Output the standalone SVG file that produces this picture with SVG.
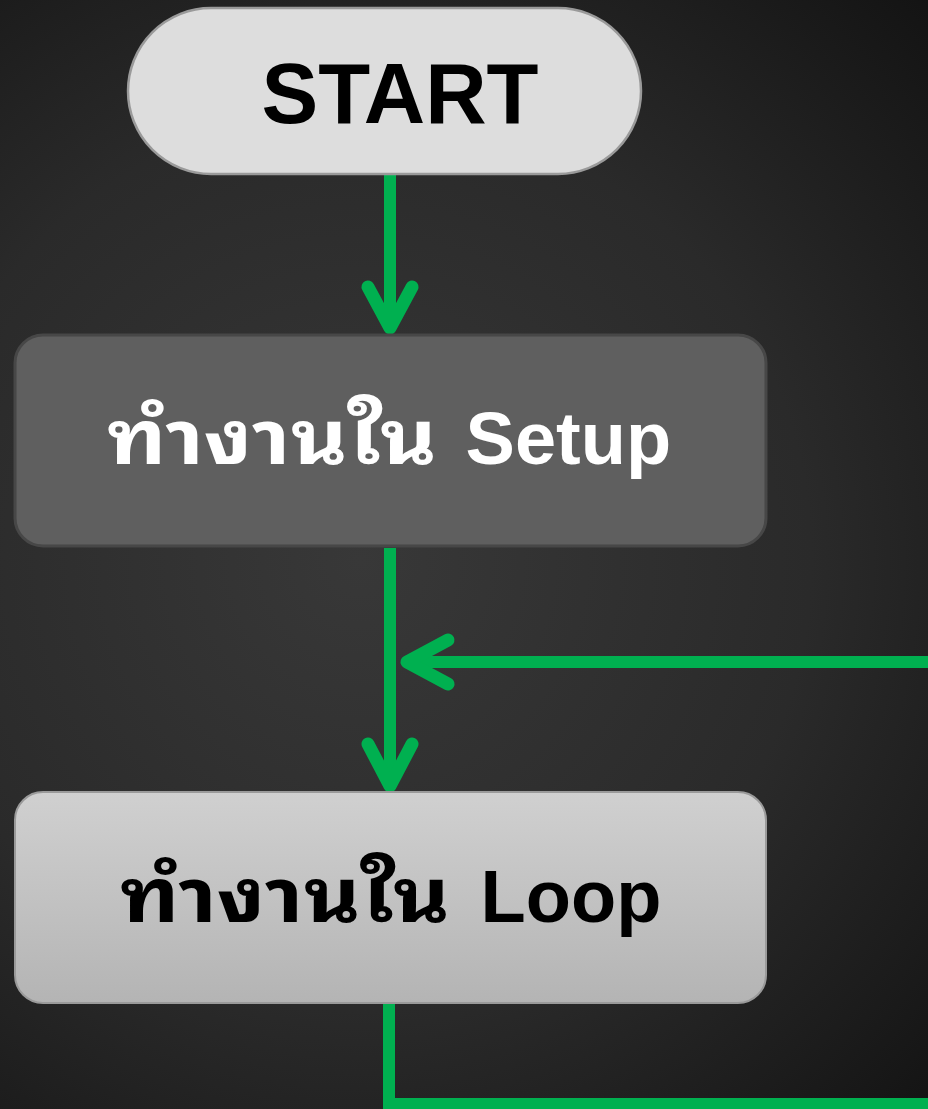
<svg xmlns="http://www.w3.org/2000/svg" width="928" height="1109" viewBox="0 0 928 1109">
  <defs>
    <radialGradient id="bg" cx="360" cy="560" r="820" gradientUnits="userSpaceOnUse">
      <stop offset="0" stop-color="#383838"/>
      <stop offset="0.55" stop-color="#2a2a2a"/>
      <stop offset="1" stop-color="#121212"/>
    </radialGradient>
    <linearGradient id="loopFill" x1="0" y1="0" x2="0" y2="1">
      <stop offset="0" stop-color="#d0d0d0"/>
      <stop offset="1" stop-color="#b4b4b4"/>
    </linearGradient>
    <style>
      .conn { fill: none; stroke: #00b050; stroke-width: 13; stroke-linecap: round; stroke-linejoin: round; }
      .line { fill: none; stroke: #00b050; stroke-width: 12; stroke-linecap: butt; stroke-linejoin: miter; }
      .lbl { font-family: "Liberation Sans", Arial, sans-serif; font-weight: bold; }
      .thai { font-family: "Noto Sans Thai Looped", "Garuda", "Loma", "Tahoma", "Noto Sans Thai", "Liberation Sans", sans-serif; font-weight: bold; }
    </style>
  </defs>
  <rect x="0" y="0" width="928" height="1109" fill="url(#bg)"/>

  <g id="connectors">
    <line class="line" x1="390" y1="174" x2="390" y2="326"/>
    <polyline class="conn" points="368,287 390,328 412,287"/>
    <line class="line" x1="390" y1="548" x2="390" y2="784"/>
    <polyline class="conn" points="368,744 390,786 412,744"/>
    <line class="line" x1="928" y1="662" x2="406" y2="662"/>
    <polyline class="conn" points="448,640 407,662 448,684"/>
    <polyline class="line" points="389,1003 389,1104 928,1104"/>
  </g>

  <g id="start">
    <rect x="128" y="8" width="513" height="166" rx="83" ry="83" fill="#dddddd" stroke="#9a9a9a" stroke-width="2.5"/>
    <text class="lbl" x="400" y="123" font-size="85" text-anchor="middle" fill="#000000">START</text>
  </g>

  <g id="setup">
    <rect x="15" y="335" width="751" height="211" rx="28" ry="28" fill="#5f5f5f" stroke="#474747" stroke-width="3"/>
    <text y="464" font-size="74" fill="#ffffff"><tspan class="thai" x="107" textLength="330" lengthAdjust="spacingAndGlyphs">ทำงานใน</tspan><tspan class="lbl" x="445"> Setup</tspan></text>
  </g>

  <g id="loop">
    <rect x="15" y="792" width="751" height="211" rx="28" ry="28" fill="url(#loopFill)" stroke="#9a9a9a" stroke-width="2"/>
    <text y="922" font-size="74" fill="#000000"><tspan class="thai" x="120" textLength="330" lengthAdjust="spacingAndGlyphs">ทำงานใน</tspan><tspan class="lbl" x="460"> Loop</tspan></text>
  </g>
</svg>
